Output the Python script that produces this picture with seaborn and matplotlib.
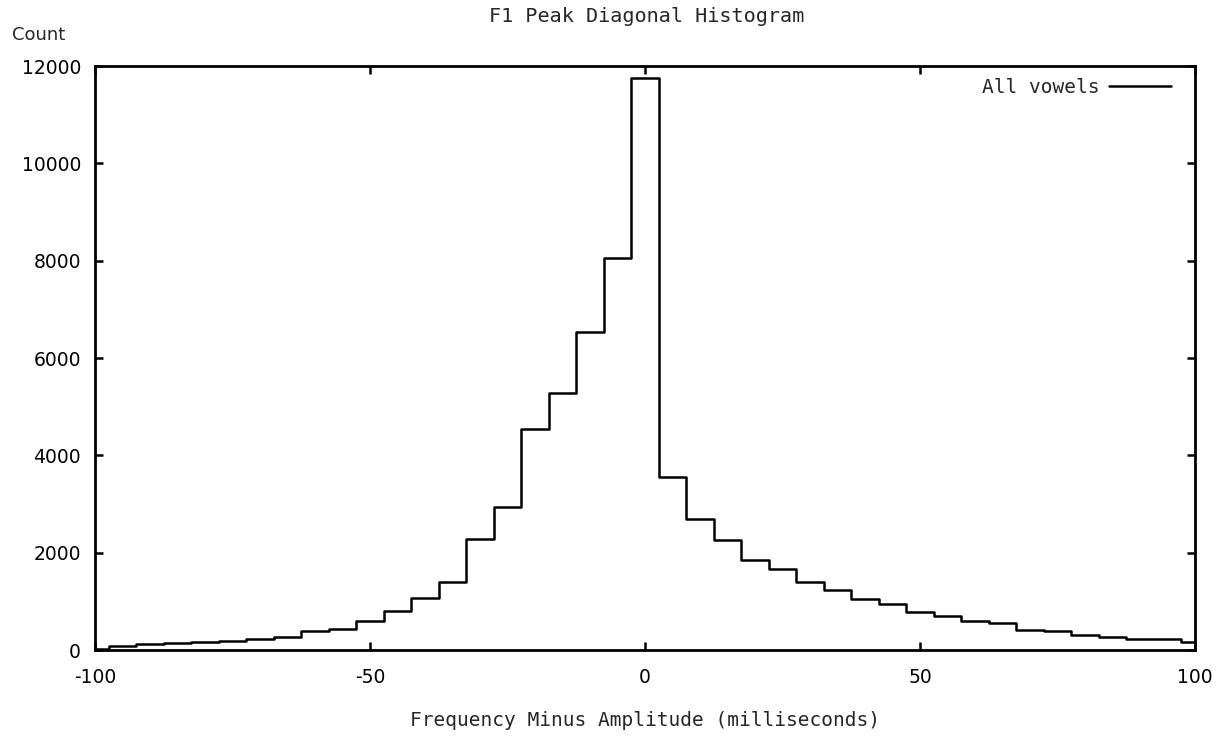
import numpy as np
import pandas as pd
import matplotlib
matplotlib.use('Agg')
import matplotlib.pyplot as plt
import seaborn as sns

# bin centres (ms) and counts
centers = [-100, -95, -90, -85, -80, -75, -70, -65, -60, -55, -50, -45, -40,
           -35, -30, -25, -20, -15, -10, -5, 0, 5, 10, 15, 20, 25, 30, 35,
           40, 45, 50, 55, 60, 65, 70, 75, 80, 85, 90, 95, 100]
counts = [20, 80, 120, 150, 160, 190, 220, 260, 400, 430, 590, 800, 1070,
          1390, 2290, 2930, 4540, 5280, 6540, 8060, 11750, 3560, 2690, 2270,
          1840, 1670, 1400, 1230, 1050, 940, 775, 690, 590, 560, 420, 400,
          310, 270, 230, 220, 155]
xticks = [-100, -50, 0, 50, 100]
yticks = [0, 2000, 4000, 6000, 8000, 10000, 12000]

data = pd.DataFrame({'diff': centers, 'count': counts})

sns.set_style('ticks')
plt.rcParams['font.family'] = ['DejaVu Sans']
plt.rcParams['axes.unicode_minus'] = False

fig = plt.figure(figsize=(12.23, 7.37), dpi=100)
ax = fig.add_axes([95 / 1223, 1 - 650 / 737, 1100 / 1223, 584 / 737])

sns.histplot(data=data, x='diff', weights='count', binwidth=5,
             binrange=(-102.5, 102.5), element='step', fill=False,
             color='black', linewidth=1.8, ax=ax, label='All vowels')

ax.set_xlim(-100, 100)
ax.set_ylim(0, 12000)
ax.set_xticks(xticks)
ax.set_yticks(yticks)
ax.tick_params(direction='in', length=6, width=1.8, top=True, right=True,
               labelsize=13.5, colors='black')
ax.tick_params(axis='x', pad=13)
ax.tick_params(axis='y', pad=10)
for s in ax.spines.values():
    s.set_linewidth(2)
    s.set_color('black')

mono = 'DejaVu Sans Mono'
ax.set_xlabel('')
ax.set_ylabel('')
fig.text(647 / 1223, 1 - 16 / 737, 'F1 Peak Diagonal Histogram', family=mono,
         fontsize=14.5, ha='center', va='center')
fig.text(645 / 1223, 1 - 721 / 737, 'Frequency Minus Amplitude (milliseconds)',
         family=mono, fontsize=14, ha='center', va='center')
fig.text(12 / 1223, 1 - 35 / 737, 'Count', family='DejaVu Sans',
         fontsize=13, ha='left', va='center')

ax.legend(loc='upper right', frameon=False, markerfirst=False,
          prop={'family': mono, 'size': 14}, handlelength=3.2,
          handletextpad=0.5, borderaxespad=0, borderpad=0.2,
          bbox_to_anchor=(1175 / 1223, 1 - 74 / 737),
          bbox_transform=fig.transFigure)

fig.savefig('out.png', dpi=100)
